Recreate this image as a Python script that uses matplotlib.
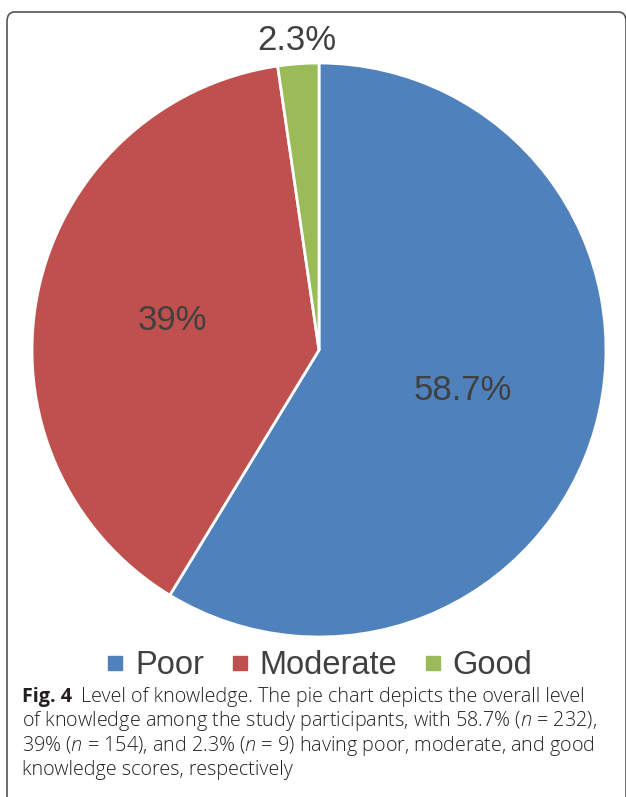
"""
Fig. 4 - level of knowledge pie chart.
"""
import numpy as np
import matplotlib.pyplot as plt
from matplotlib.patches import FancyBboxPatch
from matplotlib.lines import Line2D

plt.rcParams['mathtext.fontset'] = 'custom'
plt.rcParams['mathtext.rm'] = 'Open Sans:light'
plt.rcParams['mathtext.it'] = 'Open Sans:italic:light'

categories = ['Poor', 'Moderate', 'Good']
shares = [58.7, 39.0, 2.3]
share_labels = ['58.7%', '39%', '2.3%']
colors = ['#4F81BD', '#C0504D', '#9BBB59']

caption_head = 'Fig. 4'
caption_lines = [
    'Level of knowledge. The pie chart depicts the overall level',
    'of knowledge among the study participants, with 58.7% ($n$ = 232),',
    '39% ($n$ = 154), and 2.3% ($n$ = 9) having poor, moderate, and good',
    'knowledge scores, respectively',
]

W, H = 626, 797
fig = plt.figure(figsize=(W / 100, H / 100), dpi=100)

# pie axes: centre (319, 350) px, radius 287 px
cx, cy, r = 319, 350, 287
ax = fig.add_axes([(cx - r) / W, (H - cy - r) / H, 2 * r / W, 2 * r / H])
wedges, _ = ax.pie(shares, colors=colors, startangle=90, counterclock=False,
                   radius=1, wedgeprops=dict(edgecolor='white', linewidth=2))
ax.set_xlim(-1, 1)
ax.set_ylim(-1, 1)
ax.set_aspect('equal')
ax.axis('off')

for w, lab, val in zip(wedges, share_labels, shares):
    mid = np.deg2rad((w.theta1 + w.theta2) / 2)
    dist = 0.52 if val > 5 else 1.08
    ax.text(dist * np.cos(mid), dist * np.sin(mid), lab, ha='center', va='center',
            fontsize=25, color='#404040', family='Liberation Sans', clip_on=False)

handles = [Line2D([], [], marker='s', linestyle='none', markersize=10,
                  markerfacecolor=c, markeredgecolor=c) for c in colors]
fig.legend(handles, categories, loc='center', bbox_to_anchor=(cx / W, 1 - 666 / H),
           ncol=3, frameon=False, handlelength=0.6, handletextpad=0.3, columnspacing=0.8,
           prop=dict(family='Liberation Sans', size=23.5), labelcolor='#404040')

# caption
x0 = 22 / W
line_y = [697, 721, 746, 770]
cap_size = 14.2
head = fig.text(x0, 1 - line_y[0] / H, caption_head, fontsize=cap_size, fontweight='bold',
                family='Open Sans', color='#231f20', va='center')
fig.canvas.draw()
bb = head.get_window_extent()
fig.text((bb.x1 + 9) / W, 1 - line_y[0] / H, caption_lines[0], fontsize=cap_size,
         family='Open Sans', fontweight='light', color='#231f20', va='center')
for txt, y in zip(caption_lines[1:], line_y[1:]):
    fig.text(x0, 1 - y / H, txt, fontsize=cap_size, family='Open Sans', fontweight='light',
             color='#231f20', va='center')

# rounded frame, partly cut by the image edge
frame = FancyBboxPatch((7 / W, -20 / H), (626 - 7) / W, (797 - 12 + 20) / H,
                       boxstyle='round,pad=0,rounding_size=0.012', transform=fig.transFigure,
                       facecolor='none', edgecolor='#555555', linewidth=1.2, clip_on=False)
fig.patches.append(frame)

fig.savefig('out.png', dpi=100)
